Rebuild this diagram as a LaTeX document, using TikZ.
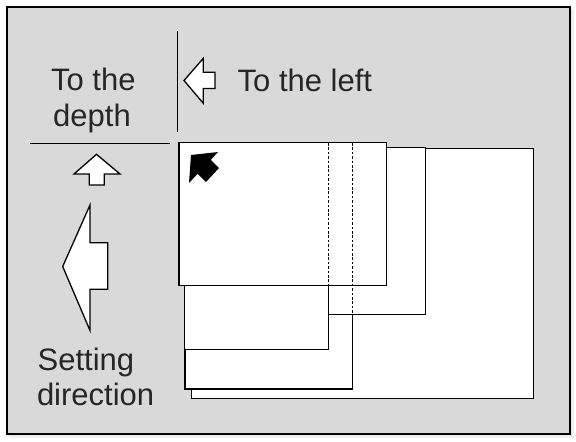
\documentclass[tikz,border=0pt]{standalone}
\usepackage{fontspec}
\setmainfont{Liberation Sans}
\definecolor{bg}{HTML}{D9D9D9}
\definecolor{txt}{HTML}{262626}
\begin{document}
\begin{tikzpicture}[x=1pt,y=-1pt,
  frame/.style={draw=black,line width=2pt,fill=bg},
  sheet/.style={draw=black,line width=1.4pt,fill=white,line join=miter},
  hidden/.style={draw=black,line width=1.4pt,dash pattern=on 2.6pt off 1.8pt},
  rule/.style={draw=black,line width=1.3pt},
  hollow/.style={draw=black,line width=1.3pt,fill=white,line join=miter},
  lbl/.style={font=\fontsize{31}{37}\selectfont,text=txt,inner sep=0pt}]
\useasboundingbox (0,0) rectangle (576,442);
% soft shadow
\fill[black!6] (9,10) rectangle (573.5,438);
\fill[black!10] (8,9) rectangle (572,436);
% frame
\draw[frame] (6.7,7.3) rectangle (570,434.3);
% separator lines
\coordinate (vt) at (177.5,31);
\coordinate (vb) at (177.5,132);
\coordinate (hl) at (30,143.3);
\coordinate (hr) at (170,143.3);
\draw[rule] (vt) -- (vb);
\draw[rule] (hl) -- (hr);
% paper sheets (back to front)
\draw[sheet] (191.7,148.3) rectangle (533.3,398.3);
\draw[sheet] (185,150) rectangle (352.7,389);
\draw[sheet] (200,147.3) rectangle (425.7,314.3);
\draw[sheet] (184.3,150) rectangle (328.3,349.3);
\draw[sheet] (179,142.3) rectangle (386.7,285.7);
\draw[hidden] (328.3,143) -- (328.3,285.7);
\draw[hidden] (352.7,143) -- (352.7,314.3);
% black arrow in front sheet
\fill[black] (189,183) -- (191,155) -- (218,152) -- (210.8,159.8)
  -- (219,168) -- (206,182) -- (197.7,173.7) -- cycle;
% small left arrow
\draw[hollow] (184,80.5) -- (203.3,58.3) -- (203.3,72.3) -- (215,72.3)
  -- (215,88.5) -- (203.3,88.5) -- (203.3,103.3) -- cycle;
% small up arrow
\draw[hollow] (96.5,154.3) -- (120,174) -- (104.3,174) -- (104.3,185)
  -- (89.3,185) -- (89.3,174) -- (74,174) -- cycle;
% big left arrow
\draw[hollow] (62.7,266.5) -- (90,205) -- (90,242.7) -- (107.7,242.7)
  -- (107.7,289.3) -- (90,289.3) -- (90,330.5) -- cycle;
% labels
\node[lbl,anchor=base] (depth1) at (93.3,90) {To the};
\node[lbl,anchor=base] (depth2) at (92,126.5) {depth};
\node[lbl,anchor=base west] (left) at (237.5,91.3) {To the left};
\node[lbl,anchor=base west] (set1) at (37.5,370) {Setting};
\node[lbl,anchor=base west] (set2) at (36.8,405.5) {direction};
\end{tikzpicture}
\end{document}
